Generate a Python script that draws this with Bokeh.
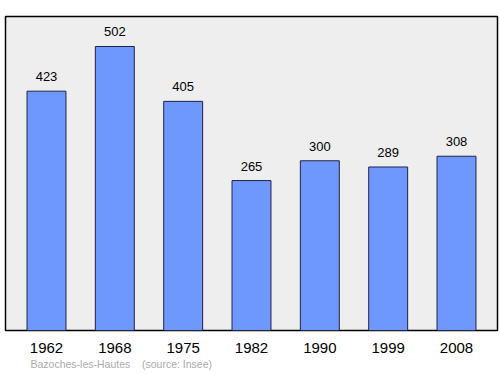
from bokeh.plotting import figure
from bokeh.models import ColumnDataSource, Title, FixedTicker, Range1d
from bokeh.embed import file_html
from bokeh.resources import INLINE

years = ["1962", "1968", "1975", "1982", "1990", "1999", "2008"]
population = [423, 502, 405, 265, 300, 289, 308]

xs = list(range(len(years)))
src = ColumnDataSource(dict(x=xs, top=population, lbl=[str(v) for v in population]))

p = figure(width=500, height=374, output_backend="svg", toolbar_location=None,
           x_range=Range1d(-0.6, 6.6), y_range=Range1d(0, 555),
           min_border_left=5, min_border_right=3, min_border_top=16, min_border_bottom=44)
p.background_fill_color = "#eeeeee"
p.border_fill_color = "white"
p.outline_line_color = "black"
p.outline_line_width = 1.5
p.grid.visible = False
p.yaxis.visible = False

p.vbar(x="x", top="top", width=0.57, bottom=0, source=src,
       fill_color="#6f98ff", line_color="#222244", line_width=1)
p.text(x="x", y="top", text="lbl", source=src, text_align="center",
       text_baseline="bottom", y_offset=-10, text_font_size="13px",
       text_font={"value": "Liberation Sans"}, text_color="black")

ax = p.xaxis[0]
ax.ticker = FixedTicker(ticks=xs)
ax.major_label_overrides = {i: y for i, y in enumerate(years)}
ax.major_tick_line_color = None
ax.minor_tick_line_color = None
ax.axis_line_color = None
ax.major_label_standoff = 6
ax.major_label_text_font = "Liberation Sans"
ax.major_label_text_font_size = "15px"
ax.major_label_text_color = "black"

t = Title(text="Bazoches-les-Hautes\u00a0\u00a0\u00a0\u00a0(source: Insee)", align="left", offset=25,
          text_font="Liberation Sans", text_font_size="10.5px", text_color="#aaaaaa",
          text_font_style="normal", standoff=0)
p.add_layout(t, "below")

open("out.html", "w").write(file_html(p, INLINE))
